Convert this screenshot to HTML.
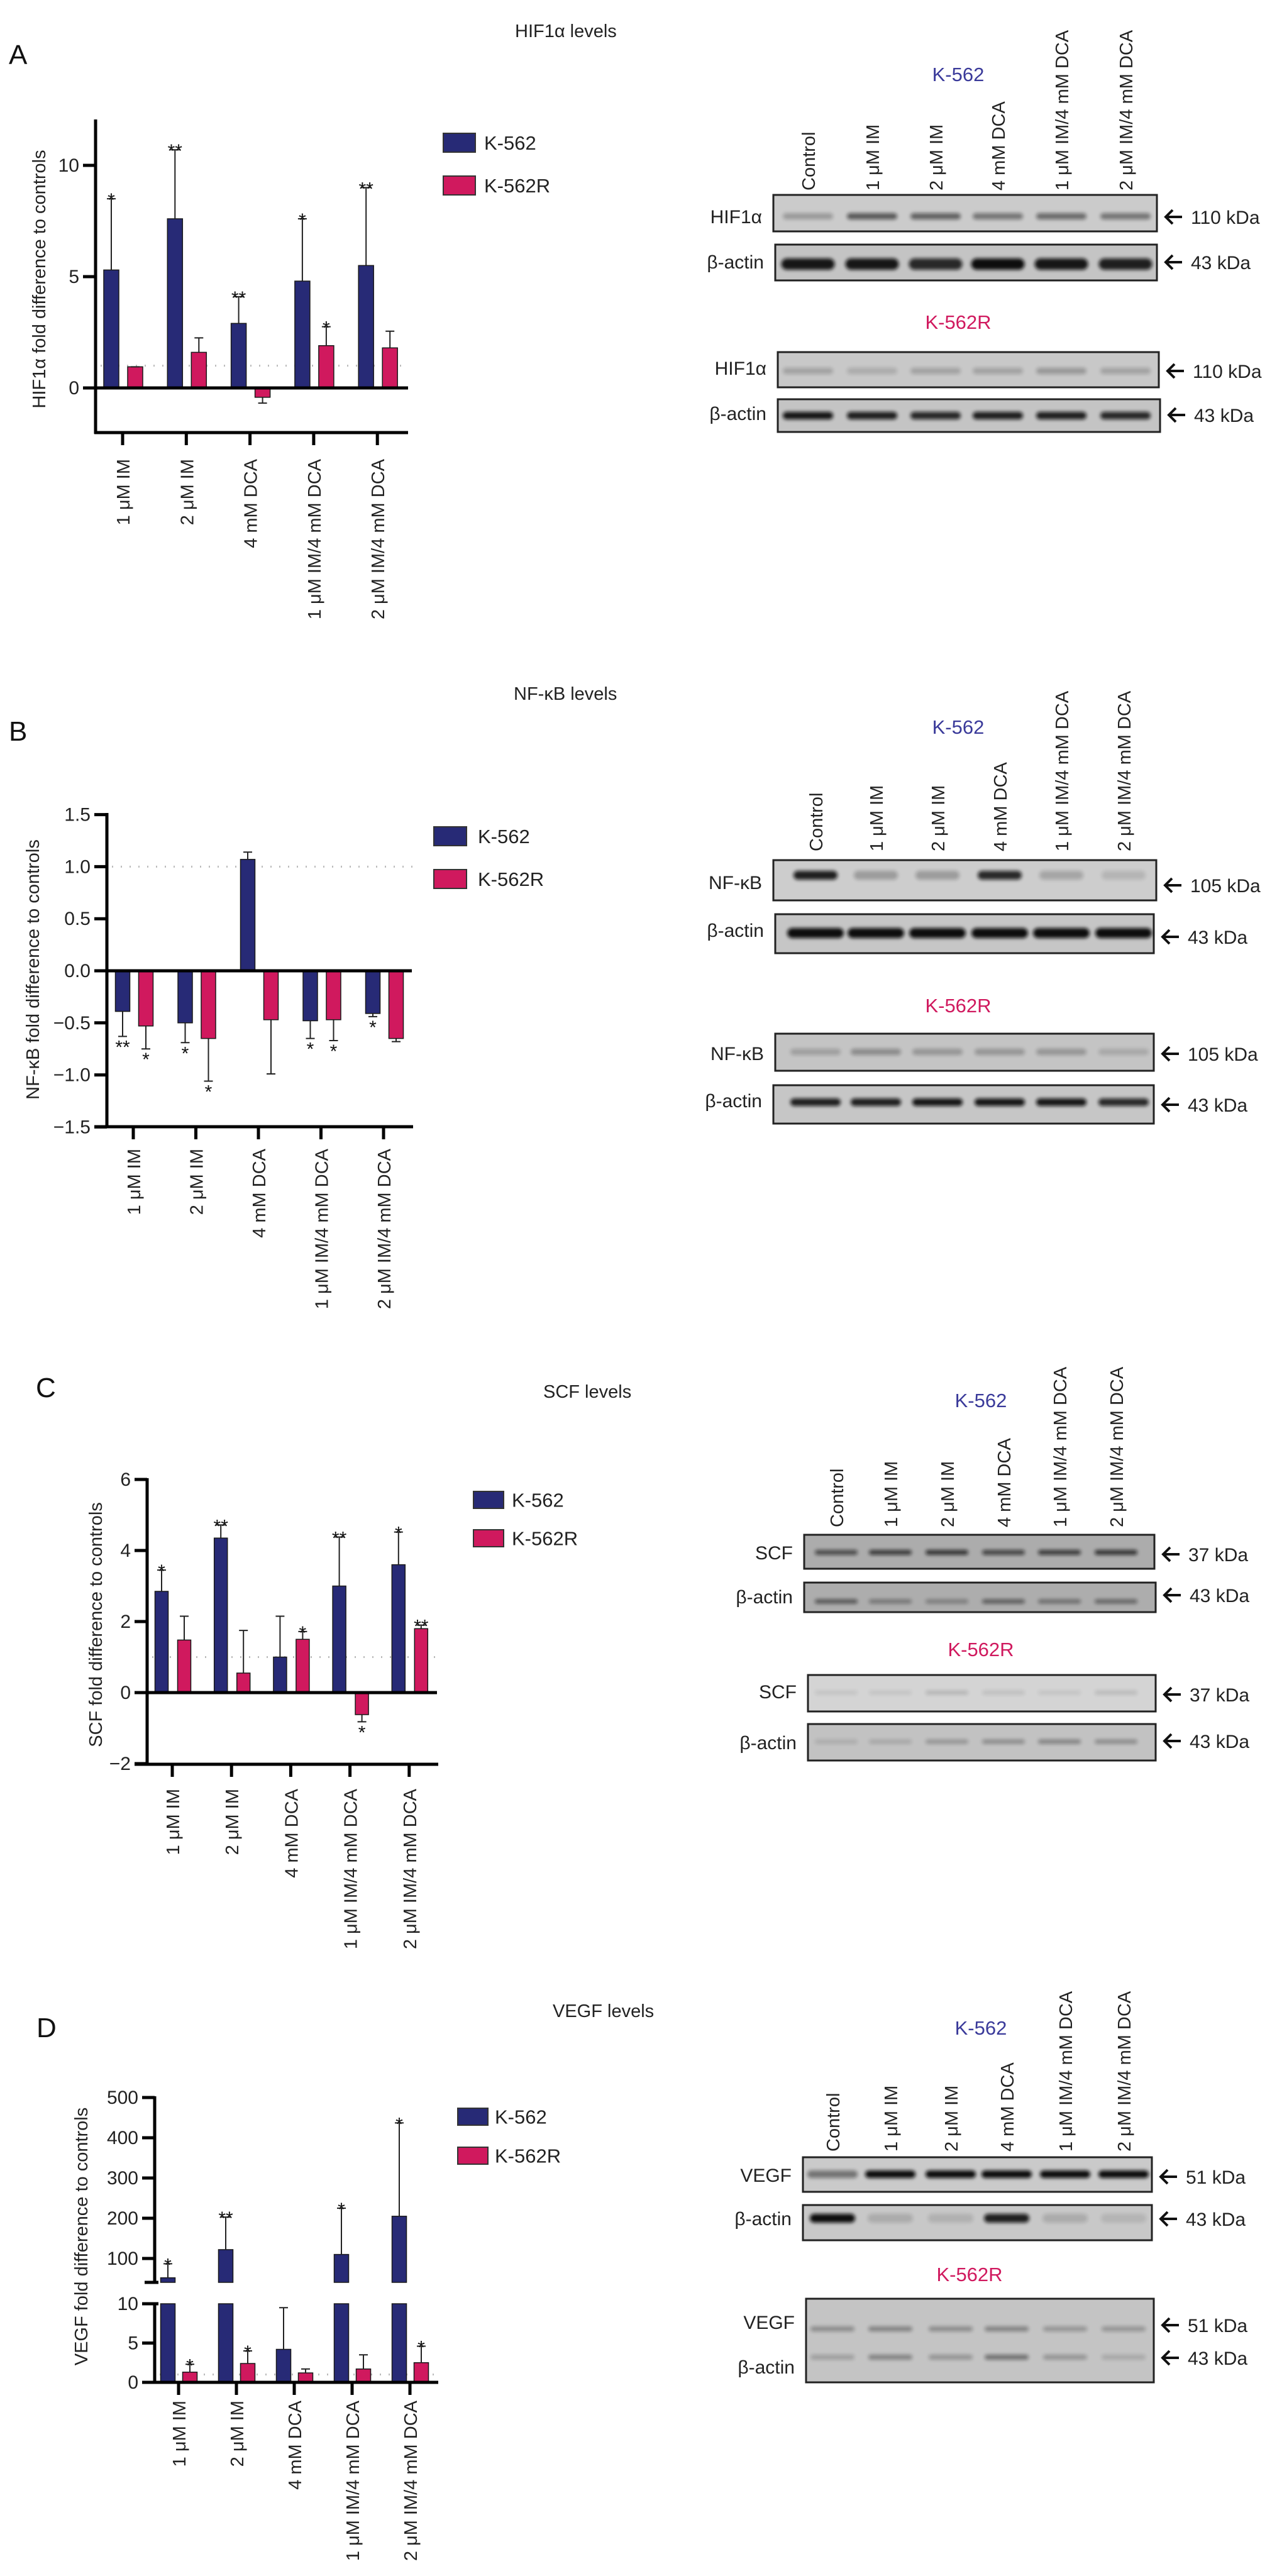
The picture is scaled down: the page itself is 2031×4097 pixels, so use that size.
<!DOCTYPE html>
<html><head><meta charset="utf-8"><title>HIF1α, NF-κB, SCF, VEGF levels</title>
<style>
html,body{margin:0;padding:0;background:#fff;}
svg{display:block;font-family:"Liberation Sans",Arial,sans-serif;}
</style></head>
<body>
<svg id="fig" xmlns="http://www.w3.org/2000/svg" width="2031" height="4097" viewBox="0 0 2031 4097">
<defs>
<filter id="blur3" x="-20%" y="-100%" width="140%" height="300%"><feGaussianBlur stdDeviation="3"/></filter>
</defs>
</svg>
<script>
// ---------- data ----------
const cats = ['1 μM IM','2 μM IM','4 mM DCA','1 μM IM/4 mM DCA','2 μM IM/4 mM DCA'];
const seriesNames = ['K-562','K-562R'];
// A: HIF1α
const hifK562 = [5.3, 7.6, 2.9, 4.8, 5.5];
const hifK562Err = [8.5, 10.7, 4.1, 7.6, 9.0];
const hifK562Sig = ['*','**','**','*','**'];
const hifK562R = [0.95, 1.6, -0.42, 1.9, 1.8];
const hifK562RErr = [0.95, 2.25, -0.68, 2.75, 2.55];
const hifK562RSig = ['','','','*',''];
const hifTicks = [0, 5, 10];
// B: NF-κB
const nfK562 = [-0.39, -0.5, 1.07, -0.48, -0.41];
const nfK562Err = [-0.63, -0.69, 1.14, -0.65, -0.44];
const nfK562Sig = ['**','*','','*','*'];
const nfK562R = [-0.53, -0.65, -0.47, -0.47, -0.65];
const nfK562RErr = [-0.75, -1.06, -0.99, -0.67, -0.68];
const nfK562RSig = ['*','*','','*',''];
const nfTicks = [-1.5, -1.0, -0.5, 0.0, 0.5, 1.0, 1.5];
const nfTickLabels = ['−1.5','−1.0','−0.5','0.0','0.5','1.0','1.5'];
// C: SCF
const scfK562 = [2.85, 4.35, 1.0, 3.0, 3.6];
const scfK562Err = [3.45, 4.72, 2.15, 4.38, 4.52];
const scfK562Sig = ['*','**','','**','*'];
const scfK562R = [1.48, 0.55, 1.5, -0.62, 1.8];
const scfK562RErr = [2.15, 1.75, 1.72, -0.82, 1.9];
const scfK562RSig = ['','','*','*','**'];
const scfTicks = [-2, 0, 2, 4, 6];
const scfTickLabels = ['−2','0','2','4','6'];
// D: VEGF
const vegfK562 = [52, 122, 4.2, 110, 205];
const vegfK562Err = [87, 203, 9.5, 225, 437];
const vegfK562Sig = ['*','**','','*','*'];
const vegfK562R = [1.3, 2.4, 1.2, 1.7, 2.5];
const vegfK562RErr = [2.3, 4.0, 1.7, 3.5, 4.6];
const vegfK562RSig = ['*','*','','','*'];
const vegfTicksUpper = [100, 200, 300, 400, 500];
const vegfTicksLower = [0, 5, 10];

const BLUE = '#272a76', PINK = '#d0195e';
const svg = document.getElementById('fig');
const NS = 'http://www.w3.org/2000/svg';
function mk(tag, attrs, parent, text){
  const e = document.createElementNS(NS, tag);
  for (const k in attrs) e.setAttribute(k, attrs[k]);
  if (text !== undefined) e.textContent = text;
  (parent || svg).appendChild(e);
  return e;
}
function group(name){
  const g = mk('g', {});
  
  
  return g;
}

// ---------- chart ----------
function chart(cfg){
  const g = group(cfg.name);
  const y = cfg.y;
  const x = i => cfg.x0 + i * cfg.dx;
  const L = mk('text', {x: cfg.letter[1], y: cfg.letter[2], 'font-size': 44, fill: '#111'}, g, cfg.letter[0]);
  
  
  const T = mk('text', {x: cfg.title[1], y: cfg.title[2], 'font-size': 29, fill: '#222'}, g, cfg.title[0]);
  
  
  const dl = mk('line', {x1: cfg.axX + 8, x2: cfg.axEnd, y1: y(1), y2: y(1), stroke: '#bbb', 'stroke-width': 3, 'stroke-dasharray': '2 12'}, g);
  
  
  const series = [
    {v: cfg.a, e: cfg.ae, s: cfg.as, c: BLUE, off: cfg.offA, n: 'k562'},
    {v: cfg.b, e: cfg.be, s: cfg.bs, c: PINK, off: cfg.offB, n: 'k562r'}];
  series.forEach(S => {
    S.v.forEach((v, i) => {
      const cx = x(i) + S.off, w = cfg.bw;
      let segs = cfg.segments ? cfg.segments(v) : [[y(0), y(v)]];
      segs.forEach(sg => {
        const top = Math.min(sg[0], sg[1]), h = Math.abs(sg[1] - sg[0]);
        const r = mk('rect', {x: cx - w/2, y: top, width: w, height: Math.max(h, 1), fill: S.c, stroke: '#1a1a1a', 'stroke-width': 1.5}, g);
        
        
      });
      const ev = S.e[i];
      const y1 = y(v), y2 = y(ev);
      const el = mk('path', {d: `M${cx},${y1}V${y2}M${cx-7},${y2}H${cx+7}`, stroke: '#222', 'stroke-width': 2, fill: 'none'}, g);
      
      
      if (S.s[i]) {
        const below = v < 0;
        const ty = below ? y2 + 27 : y2 + 12;
        const st = mk('text', {x: cx, y: ty, 'font-size': 30, 'text-anchor': 'middle', fill: '#111'}, g, S.s[i]);
        
        
      }
    });
  });
  cfg.axisLines.forEach(a => {
    const l = mk('line', {x1: a[0], y1: a[1], x2: a[2], y2: a[3], stroke: '#000', 'stroke-width': a[4] || 5}, g);
    
    
  });
  cfg.ticks.forEach((t, i) => {
    const ty = y(t);
    const tl = mk('line', {x1: cfg.axX - 20, x2: cfg.axX, y1: ty, y2: ty, stroke: '#000', 'stroke-width': 5}, g);
    
    
    const tx = mk('text', {x: cfg.axX - 26, y: ty + 10, 'font-size': 30, 'text-anchor': 'end', fill: '#222'}, g, cfg.tickLabels ? cfg.tickLabels[i] : String(t));
    
    
  });
  cats.forEach((c, i) => {
    const tm = mk('line', {x1: x(i), x2: x(i), y1: cfg.xAxisY, y2: cfg.xAxisY + 20, stroke: '#000', 'stroke-width': 5}, g);
    
    
    const lab = mk('text', {x: x(i) + 11, y: cfg.catTop, 'font-size': 29, 'text-anchor': 'end', fill: '#222', transform: `rotate(-90 ${x(i) + 11} ${cfg.catTop})`}, g, c);
    
    
  });
  const yt = mk('text', {x: cfg.ylab[0] + 11, y: cfg.ylab[1], 'font-size': 29, 'text-anchor': 'middle', fill: '#222', transform: `rotate(-90 ${cfg.ylab[0] + 11} ${cfg.ylab[1]})`}, g, cfg.ylab[2]);
  
  
  const lg = mk('g', {}, g);
  
  
  [[BLUE, cfg.leg.y1], [PINK, cfg.leg.y2]].forEach((p, k) => {
    const r = mk('rect', {x: cfg.leg.x, y: p[1], width: cfg.leg.w, height: cfg.leg.h, fill: p[0], stroke: '#333', 'stroke-width': 2}, lg);
    
    
    const t = mk('text', {x: cfg.leg.tx, y: p[1] + cfg.leg.h/2 + 11, 'font-size': 31, fill: '#222'}, lg, seriesNames[k]);
    
    
  });
}

chart({name: 'hif1a-chart', letter: ['A', 14, 102], title: ['HIF1α levels', 819, 59],
  y: v => 617 - v * 35.4, x0: 195, dx: 101.3, offA: -18, offB: 20, bw: 24, axX: 152, axEnd: 649, xAxisY: 688,
  a: hifK562, ae: hifK562Err, as: hifK562Sig, b: hifK562R, be: hifK562RErr, bs: hifK562RSig,
  ticks: hifTicks, catTop: 730, ylab: [61, 444, 'HIF1α fold difference to controls'],
  axisLines: [[152, 190, 152, 690], [150, 688, 649, 688], [135, 617, 649, 617, 5]],
  leg: {x: 705, y1: 212, y2: 280, w: 51, h: 30, tx: 770}});
chart({name: 'nfkb-chart', letter: ['B', 14, 1178], title: ['NF-κB levels', 817, 1113],
  y: v => 1544 - v * 165.6, x0: 212, dx: 99.5, offA: -17, offB: 20, bw: 23, axX: 170, axEnd: 657, xAxisY: 1792,
  a: nfK562, ae: nfK562Err, as: nfK562Sig, b: nfK562R, be: nfK562RErr, bs: nfK562RSig,
  ticks: nfTicks, tickLabels: nfTickLabels, catTop: 1827, ylab: [51, 1542, 'NF-κB fold difference to controls'],
  axisLines: [[170, 1293, 170, 1794], [150, 1792, 657, 1792], [150, 1544, 655, 1544, 5]],
  leg: {x: 690, y1: 1315, y2: 1383, w: 52, h: 30, tx: 760}});
chart({name: 'scf-chart', letter: ['C', 57, 2222], title: ['SCF levels', 864, 2223],
  y: v => 2692 - v * 56.5, x0: 274, dx: 94.2, offA: -17, offB: 19, bw: 21, axX: 234, axEnd: 697, xAxisY: 2806,
  a: scfK562, ae: scfK562Err, as: scfK562Sig, b: scfK562R, be: scfK562RErr, bs: scfK562RSig,
  ticks: scfTicks, tickLabels: scfTickLabels, catTop: 2845, ylab: [151, 2584, 'SCF fold difference to controls'],
  axisLines: [[234, 2351, 234, 2808], [214, 2806, 697, 2806], [214, 2692, 695, 2692, 5]],
  leg: {x: 753, y1: 2372, y2: 2433, w: 48, h: 27, tx: 814}});
function vegfY(v){ return v <= 10 ? 3789 - v * 12.5 : 3592 - (v - 100) * 0.64; }
chart({name: 'vegf-chart', letter: ['D', 58, 3240], title: ['VEGF levels', 879, 3208],
  y: vegfY, x0: 284, dx: 92, offA: -17, offB: 18, bw: 23, axX: 246, axEnd: 697, xAxisY: 3789,
  segments: v => v <= 10 ? [[vegfY(0), vegfY(v)]] : [[vegfY(0), vegfY(10)], [3630, vegfY(v)]],
  a: vegfK562, ae: vegfK562Err, as: vegfK562Sig, b: vegfK562R, be: vegfK562RErr, bs: vegfK562RSig,
  ticks: vegfTicksUpper.concat(vegfTicksLower), catTop: 3818, ylab: [128, 3557, 'VEGF fold difference to controls'],
  axisLines: [[246, 3334, 246, 3632], [246, 3662, 246, 3791], [226, 3789, 697, 3789], [230, 3630, 252, 3630], [230, 3664, 252, 3664]],
  leg: {x: 728, y1: 3353, y2: 3415, w: 48, h: 27, tx: 787}});

// ---------- western blots ----------
const laneNames = ['Control','1 μM IM','2 μM IM','4 mM DCA','1 μM IM/4 mM DCA','2 μM IM/4 mM DCA'];
function blotPanel(cfg){
  const g = group(cfg.name);
  const h1 = mk('text', {x: cfg.k1[0], y: cfg.k1[1] + 11, 'font-size': 31, 'text-anchor': 'middle', fill: '#3a3a9a'}, g, 'K-562');
  
  
  const h2 = mk('text', {x: cfg.k2[0], y: cfg.k2[1] + 11, 'font-size': 31, 'text-anchor': 'middle', fill: '#d0195e'}, g, 'K-562R');
  
  
  cfg.lanes.forEach((lx, i) => {
    const t = mk('text', {x: lx + 11, y: cfg.laneBottom, 'font-size': 29, fill: '#222', transform: `rotate(-90 ${lx + 11} ${cfg.laneBottom})`}, g, laneNames[i]);
    
    
  });
  cfg.boxes.forEach(b => {
    const bg = mk('g', {}, g);
    
    
    const r = mk('rect', {x: b.x1, y: b.y1, width: b.x2 - b.x1, height: b.y2 - b.y1, fill: b.bg, stroke: '#222', 'stroke-width': 3}, bg);
    
    
    b.bands.forEach(bd => {
      bd.int.forEach((a, i) => {
        if (a <= 0) return;
        const lx = cfg.lanes[i];
        const e = mk('rect', {x: lx - bd.w/2, y: bd.y - bd.h/2, width: bd.w, height: bd.h, rx: bd.h/2, fill: '#111', opacity: a, filter: 'url(#blur3)'}, bg);
        
        
      });
    });
    b.labels.forEach(lb => {
      const t = mk('text', {x: b.x1 - 18, y: lb[1] + 10, 'font-size': 30, 'text-anchor': 'end', fill: '#222'}, bg, lb[0]);
      
      
    });
    b.kda.forEach(k => {
      const ax = b.x2 + 12, ay = k[1];
      const ar = mk('path', {d: `M${ax + 28},${ay}H${ax + 2}M${ax + 13},${ay - 11}L${ax + 2},${ay}L${ax + 13},${ay + 11}`, stroke: '#111', 'stroke-width': 4, fill: 'none'}, bg);
      
      
      const t = mk('text', {x: ax + 42, y: ay + 11, 'font-size': 30, fill: '#222'}, bg, k[0]);
      
      
    });
  });
}
const W = 80;
blotPanel({name: 'hif1a-blots', k1: [1524, 118], k2: [1524, 512], laneBottom: 303,
  lanes: [1285, 1387, 1488, 1587, 1688, 1790],
  boxes: [
    {x1: 1230, y1: 310, x2: 1840, y2: 368, bg: '#cbcbcb', labels: [['HIF1α', 345]], kda: [['110 kDa', 345]],
     bands: [{y: 344, h: 10, w: W, int: [0.25, 0.6, 0.55, 0.45, 0.5, 0.45]}]},
    {x1: 1233, y1: 389, x2: 1840, y2: 446, bg: '#c4c4c4', labels: [['β-actin', 417]], kda: [['43 kDa', 417]],
     bands: [{y: 420, h: 18, w: 85, int: [0.95, 0.95, 0.85, 1, 0.95, 0.9]}]},
    {x1: 1237, y1: 560, x2: 1843, y2: 616, bg: '#c8c8c8', labels: [['HIF1α', 586]], kda: [['110 kDa', 590]],
     bands: [{y: 590, h: 10, w: W, int: [0.2, 0.15, 0.2, 0.2, 0.25, 0.2]}]},
    {x1: 1237, y1: 635, x2: 1845, y2: 687, bg: '#c4c4c4', labels: [['β-actin', 658]], kda: [['43 kDa', 660]],
     bands: [{y: 661, h: 12, w: W, int: [0.95, 0.9, 0.85, 0.9, 0.9, 0.85]}]}]});
blotPanel({name: 'nfkb-blots', k1: [1524, 1156], k2: [1524, 1599], laneBottom: 1354,
  lanes: [1297, 1393, 1491, 1590, 1688, 1787],
  boxes: [
    {x1: 1230, y1: 1368, x2: 1839, y2: 1432, bg: '#cdcdcd', labels: [['NF-κB', 1404]], kda: [['105 kDa', 1408]],
     bands: [{y: 1392, h: 14, w: 70, int: [0.9, 0.25, 0.25, 0.85, 0.2, 0.12]}]},
    {x1: 1233, y1: 1454, x2: 1835, y2: 1516, bg: '#c6c6c6', labels: [['β-actin', 1480]], kda: [['43 kDa', 1490]],
     bands: [{y: 1484, h: 16, w: 90, int: [1, 1, 1, 1, 1, 1]}]},
    {x1: 1233, y1: 1644, x2: 1835, y2: 1703, bg: '#c4c4c4', labels: [['NF-κB', 1676]], kda: [['105 kDa', 1676]],
     bands: [{y: 1673, h: 10, w: W, int: [0.2, 0.3, 0.25, 0.25, 0.25, 0.15]}]},
    {x1: 1230, y1: 1726, x2: 1835, y2: 1787, bg: '#c6c6c6', labels: [['β-actin', 1751]], kda: [['43 kDa', 1757]],
     bands: [{y: 1753, h: 12, w: W, int: [0.9, 0.9, 0.95, 0.95, 0.95, 0.85]}]}]});
blotPanel({name: 'scf-blots', k1: [1560, 2227], k2: [1560, 2623], laneBottom: 2429,
  lanes: [1330, 1416, 1506, 1596, 1685, 1775],
  boxes: [
    {x1: 1279, y1: 2441, x2: 1836, y2: 2495, bg: '#acacac', labels: [['SCF', 2470]], kda: [['37 kDa', 2472]],
     bands: [{y: 2469, h: 8, w: 68, int: [0.6, 0.7, 0.75, 0.65, 0.7, 0.75]}]},
    {x1: 1279, y1: 2517, x2: 1838, y2: 2564, bg: '#adadad', labels: [['β-actin', 2540]], kda: [['43 kDa', 2537]],
     bands: [{y: 2547, h: 7, w: 68, int: [0.55, 0.35, 0.3, 0.5, 0.4, 0.45]}]},
    {x1: 1285, y1: 2664, x2: 1838, y2: 2722, bg: '#d4d4d4', labels: [['SCF', 2691]], kda: [['37 kDa', 2695]],
     bands: [{y: 2692, h: 7, w: 68, int: [0.08, 0.08, 0.15, 0.1, 0.08, 0.12]}]},
    {x1: 1285, y1: 2742, x2: 1838, y2: 2800, bg: '#c2c2c2', labels: [['β-actin', 2772]], kda: [['43 kDa', 2769]],
     bands: [{y: 2770, h: 7, w: 68, int: [0.12, 0.15, 0.25, 0.3, 0.35, 0.3]}]}]});
blotPanel({name: 'vegf-blots', k1: [1560, 3225], k2: [1542, 3617], laneBottom: 3422,
  lanes: [1324, 1416, 1512, 1601, 1694, 1787],
  boxes: [
    {x1: 1277, y1: 3431, x2: 1832, y2: 3486, bg: '#cacaca', labels: [['VEGF', 3460]], kda: [['51 kDa', 3462]],
     bands: [{y: 3458, h: 12, w: 80, int: [0.45, 1, 1, 1, 1, 1]}]},
    {x1: 1277, y1: 3507, x2: 1832, y2: 3563, bg: '#c8c8c8', labels: [['β-actin', 3529]], kda: [['43 kDa', 3529]],
     bands: [{y: 3528, h: 14, w: 72, int: [1, 0.15, 0.12, 0.9, 0.15, 0.1]}]},
    {x1: 1282, y1: 3656, x2: 1835, y2: 3789, bg: '#c4c4c4', labels: [['VEGF', 3694], ['β-actin', 3765]], kda: [['51 kDa', 3698], ['43 kDa', 3750]],
     bands: [{y: 3704, h: 8, w: 70, int: [0.3, 0.35, 0.3, 0.35, 0.25, 0.25]},
             {y: 3749, h: 8, w: 70, int: [0.2, 0.35, 0.25, 0.45, 0.25, 0.15]}]}]});
</script>
</body></html>
